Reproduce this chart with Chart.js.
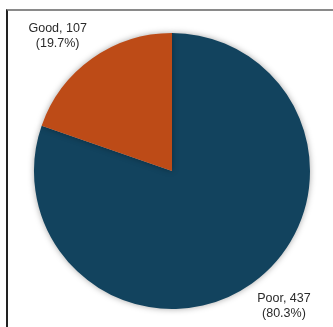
<!DOCTYPE html>
<html>
<head>
<meta charset="utf-8">
<script src="https://cdn.jsdelivr.net/npm/chart.js@4"></script>
<style>
  html, body { margin: 0; padding: 0; background: #fff; }
  #wrap { position: relative; width: 333px; height: 327px; }
  #frame { position: absolute; left: 6px; top: 9px; width: 327px; height: 318px;
    border-top: 2px solid #8a8a8a; border-left: 2px solid #222; box-sizing: border-box; }
  canvas { position: absolute; left: 0; top: 0; }
</style>
</head>
<body>
<div id="wrap">
  <div id="frame"></div>
  <canvas id="pie" width="333" height="327"></canvas>
</div>
<script>
const categories = ['Poor', 'Good'];
const counts = [437, 107];
const percents = ['80.3%', '19.7%'];
const colors = ['#12435e', '#bd4b17'];

// labels sit just outside the pie, text block anchored at its nearest corner
const outsideLabels = {
  id: 'outsideLabels',
  afterDatasetsDraw(chart) {
    const ctx = chart.ctx;
    const meta = chart.getDatasetMeta(0);
    ctx.save();
    ctx.font = '12.5px "Liberation Sans", Arial, sans-serif';
    ctx.fillStyle = '#2a2a2a';
    ctx.textBaseline = 'middle';
    ctx.textAlign = 'center';
    meta.data.forEach((arc, i) => {
      const mid = (arc.startAngle + arc.endAngle) / 2;
      const r = arc.outerRadius + 9;
      const ax = arc.x + Math.cos(mid) * r;
      const ay = arc.y + Math.sin(mid) * r;
      const lines = [categories[i] + ', ' + counts[i], '(' + percents[i] + ')'];
      const w = Math.max(...lines.map(l => ctx.measureText(l).width));
      const lh = 15;
      const h = lh * lines.length;
      const cx = Math.cos(mid) >= 0 ? ax + w / 2 : ax - w / 2;
      const top = Math.sin(mid) >= 0 ? ay : ay - h;
      lines.forEach((l, k) => ctx.fillText(l, cx, top + lh * k + lh / 2));
    });
    ctx.restore();
  }
};

const pieShadow = {
  id: 'pieShadow',
  beforeDatasetsDraw(chart) {
    chart.ctx.save();
    chart.ctx.shadowColor = 'rgba(0,0,0,0.35)';
    chart.ctx.shadowBlur = 6;
  },
  afterDatasetsDraw(chart) {
    chart.ctx.restore();
  }
};

new Chart(document.getElementById('pie'), {
  type: 'pie',
  data: {
    labels: categories,
    datasets: [{ data: counts, backgroundColor: colors, borderWidth: 0 }]
  },
  options: {
    responsive: false,
    animation: false,
    layout: { padding: { left: 34, right: 23, top: 33, bottom: 18 } },
    plugins: { legend: { display: false }, tooltip: { enabled: false } }
  },
  plugins: [pieShadow, outsideLabels]
});
</script>
</body>
</html>
